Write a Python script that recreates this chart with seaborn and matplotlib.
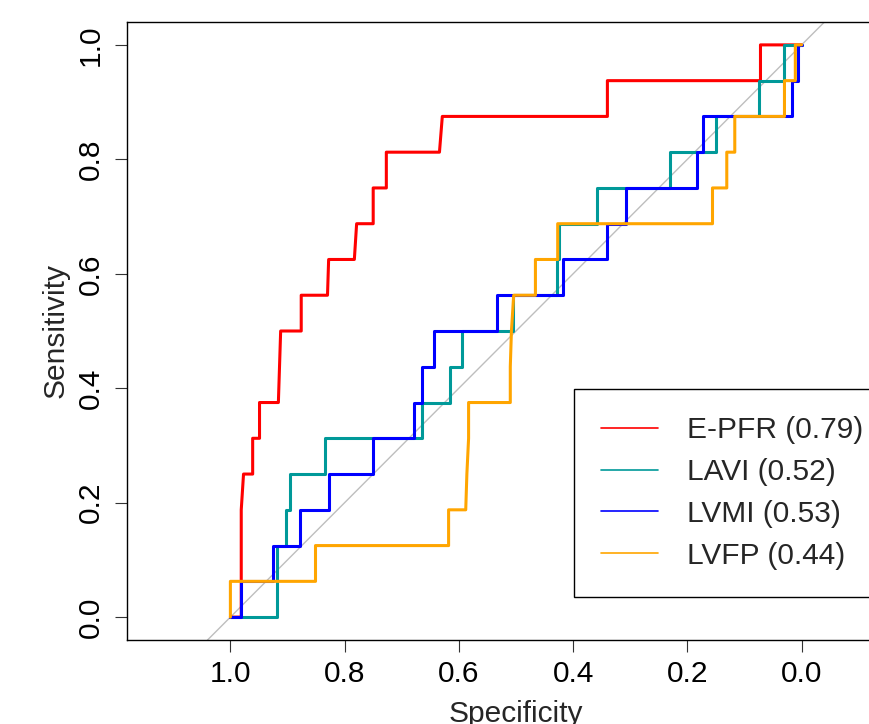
import matplotlib
matplotlib.use("Agg")
import seaborn as sns
import pandas as pd
import matplotlib.pyplot as plt

# ROC coordinates (specificity, sensitivity)
epfr_spec = [1.000, 0.981, 0.981, 0.977, 0.961, 0.961, 0.949, 0.949, 0.916, 0.912,
             0.876, 0.876, 0.830, 0.828, 0.783, 0.779, 0.750, 0.750, 0.727, 0.727,
             0.634, 0.629, 0.340, 0.340, 0.072, 0.072, 0.0]
epfr_sens = [0, 0, 0.1875, 0.25, 0.25, 0.3125, 0.3125, 0.375, 0.375, 0.5,
             0.5, 0.5625, 0.5625, 0.625, 0.625, 0.6875, 0.6875, 0.75, 0.75, 0.8125,
             0.8125, 0.875, 0.875, 0.9375, 0.9375, 1.0, 1.0]

lavi_spec = [1.0, 0.918, 0.918, 0.902, 0.902, 0.895, 0.895, 0.834, 0.834, 0.665,
             0.665, 0.615, 0.615, 0.595, 0.595, 0.506, 0.506, 0.429, 0.429, 0.424,
             0.424, 0.359, 0.359, 0.231, 0.231, 0.149, 0.149, 0.074, 0.074, 0.030,
             0.030, 0.0]
lavi_sens = [0, 0, 0.125, 0.125, 0.1875, 0.1875, 0.25, 0.25, 0.3125, 0.3125,
             0.375, 0.375, 0.4375, 0.4375, 0.5, 0.5, 0.5625, 0.5625, 0.625, 0.625,
             0.6875, 0.6875, 0.75, 0.75, 0.8125, 0.8125, 0.875, 0.875, 0.9375, 0.9375,
             1.0, 1.0]

lvmi_spec = [1.0, 0.981, 0.981, 0.926, 0.926, 0.879, 0.879, 0.827, 0.827, 0.751,
             0.751, 0.678, 0.678, 0.664, 0.664, 0.644, 0.644, 0.534, 0.534, 0.417,
             0.417, 0.340, 0.340, 0.308, 0.308, 0.184, 0.184, 0.173, 0.173, 0.016,
             0.016, 0.007, 0.007, 0.0]
lvmi_sens = [0, 0, 0.0625, 0.0625, 0.125, 0.125, 0.1875, 0.1875, 0.25, 0.25,
             0.3125, 0.3125, 0.375, 0.375, 0.4375, 0.4375, 0.5, 0.5, 0.5625, 0.5625,
             0.625, 0.625, 0.6875, 0.6875, 0.75, 0.75, 0.8125, 0.8125, 0.875, 0.875,
             0.9375, 0.9375, 1.0, 1.0]

lvfp_spec = [1.0, 1.0, 0.851, 0.851, 0.618, 0.618, 0.588, 0.586, 0.583, 0.583,
             0.510, 0.510, 0.508, 0.504, 0.466, 0.466, 0.427, 0.427, 0.156, 0.156,
             0.131, 0.131, 0.117, 0.117, 0.030, 0.030, 0.011, 0.011, 0.0]
lvfp_sens = [0, 0.0625, 0.0625, 0.125, 0.125, 0.1875, 0.1875, 0.25, 0.3125, 0.375,
             0.375, 0.4375, 0.5, 0.5625, 0.5625, 0.625, 0.625, 0.6875, 0.6875, 0.75,
             0.75, 0.8125, 0.8125, 0.875, 0.875, 0.9375, 0.9375, 1.0, 1.0]

labels = ["E-PFR (0.79)", "LAVI (0.52)", "LVMI (0.53)", "LVFP (0.44)"]
colors = ["#FF0000", "#009999", "#0000FF", "#FFA500"]

curves = {
    labels[0]: (epfr_spec, epfr_sens),
    labels[1]: (lavi_spec, lavi_sens),
    labels[2]: (lvmi_spec, lvmi_sens),
    labels[3]: (lvfp_spec, lvfp_sens),
}

sns.set_style("ticks")
plt.rcParams['font.family'] = ['Liberation Sans', 'DejaVu Sans']

fig = plt.figure(figsize=(8.7, 7.24), dpi=100)
ax = fig.add_axes([127/870, 84/724, 778/870, 618/724])

# diagonal chance line
ax.axline((1, 0), (0, 1), color="#BEBEBE", lw=1, zorder=1)

# drawing order: blue, teal, red, orange
for i in [2, 1, 0, 3]:
    sp, se = curves[labels[i]]
    df = pd.DataFrame({"spec": sp, "sens": se})
    sns.lineplot(data=df, x="spec", y="sens", sort=False, estimator=None,
                 color=colors[i], lw=2.2, ax=ax, label=labels[i], zorder=2 + i)

ax.set_xlim(1.181, -0.181)
ax.set_ylim(-0.04, 1.04)

ticks = [0.0, 0.2, 0.4, 0.6, 0.8, 1.0]
ax.set_xticks(ticks)
ax.set_yticks(ticks)
ax.set_xticklabels([f"{t:.1f}" for t in ticks])
ax.set_yticklabels([f"{t:.1f}" for t in ticks], rotation=90, va="center")
ax.tick_params(axis="both", length=8.6, width=0.8, color="#333333",
               labelsize=21.5, labelcolor="black")
ax.tick_params(axis="x", pad=6)
ax.tick_params(axis="y", pad=7.5)

for s in ax.spines.values():
    s.set_color("black")
    s.set_linewidth(1.0)

ax.set_xlabel("Specificity", fontsize=21.5, va="center")
ax.set_ylabel("Sensitivity", fontsize=21.5, va="center", ha="center")
ax.xaxis.set_label_coords(0.5, -0.119)
ax.yaxis.set_label_coords(-0.092, 0.5)

handles, labs = ax.get_legend_handles_labels()
order = [labs.index(l) for l in labels]
leg = ax.legend([handles[k] for k in order], labels, loc="lower left",
                bbox_to_anchor=((574 - 127) / 778, 43 / 618), fontsize=21.5,
                frameon=True, fancybox=False, edgecolor="black", framealpha=1,
                handlelength=1.9, handletextpad=0.95, borderpad=0.92,
                labelspacing=0.46, borderaxespad=0)
leg.get_frame().set_linewidth(1.0)
for line in leg.get_lines():
    line.set_linewidth(1.2)

fig.savefig("out.png", dpi=100)
